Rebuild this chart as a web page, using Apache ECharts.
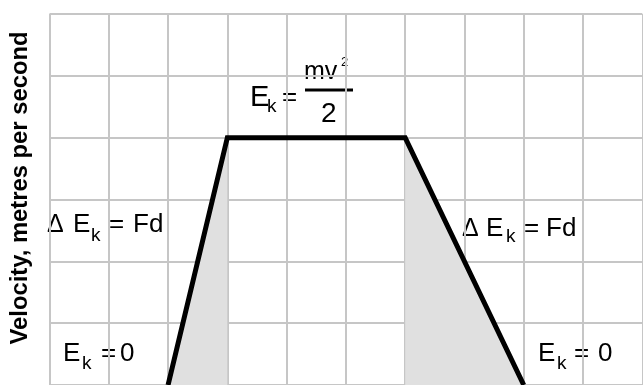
<!DOCTYPE html>
<html>
<head>
<meta charset="utf-8">
<script src="https://cdn.jsdelivr.net/npm/echarts@6/dist/echarts.min.js"></script>
<style>html,body{margin:0;padding:0;background:#fff}#c{width:643px;height:385px}</style>
</head>
<body>
<div id="c"></div>
<script>
// Data
const timeValues = [2, 3, 6, 8];
const velocityValues = [0, 4, 4, 0];
const xRange = [0, 10];
const yRange = [0, 6];
const yAxisTitle = 'Velocity, metres per second';

const pathData = timeValues.map((t, i) => [t, velocityValues[i]]);
const shadeLeft = pathData.slice(0, 2);
const shadeRight = pathData.slice(2, 4);

const FONT = '"Liberation Sans", Arial, sans-serif';
function txt(x, base, s, size) {
  return {
    type: 'text', x: x, y: base - 0.32 * size, silent: true,
    style: { text: s, font: size + 'px ' + FONT, fill: '#000', align: 'left', verticalAlign: 'middle' }
  };
}

const graphics = [
  // y axis title
  { type: 'text', x: 20.5, y: 188, rotation: Math.PI / 2, silent: true,
    style: { text: yAxisTitle, font: 'bold 23.8px ' + FONT, fill: '#000', align: 'center', verticalAlign: 'middle' } },
  // top formula
  txt(250, 107, 'E', 29), txt(267, 113, 'k', 19), txt(282, 106, '=', 26),
  txt(304, 80, 'mv', 25), txt(341, 67, '2', 13),
  { type: 'rect', silent: true, shape: { x: 305, y: 88.5, width: 48, height: 3 }, style: { fill: '#000' } },
  txt(321, 123, '2', 28),
  // left ΔEk = Fd
  txt(47, 233, 'Δ', 25), txt(73, 233, 'E', 26), txt(91, 242, 'k', 19), txt(109, 233, '=', 26), txt(133, 233, 'Fd', 26),
  // right ΔEk = Fd
  txt(462, 237, 'Δ', 25), txt(486, 237, 'E', 26), txt(506, 243, 'k', 19), txt(524, 237, '=', 26), txt(546, 237, 'Fd', 26),
  // d labels
  txt(206, 317, 'd', 26), txt(427, 315, 'd', 26),
  // Ek = 0
  txt(63, 362, 'E', 26), txt(82, 370, 'k', 19), txt(101, 362, '=', 26), txt(120, 362, '0', 26),
  txt(538, 362, 'E', 26), txt(557, 370, 'k', 19), txt(574, 362, '=', 26), txt(598, 362, '0', 26)
];

const chart = echarts.init(document.getElementById('c'), null, { renderer: 'canvas' });
const splitStyle = { show: true, lineStyle: { color: '#c6c6c6', width: 2 } };
chart.setOption({
  animation: false,
  backgroundColor: '#fff',
  grid: { left: 49.5, right: 0.7, top: 14, height: 374.4, containLabel: false },
  xAxis: { type: 'value', min: xRange[0], max: xRange[1], interval: 1,
    axisLine: { show: false }, axisTick: { show: false }, axisLabel: { show: false }, splitLine: splitStyle },
  yAxis: { type: 'value', min: yRange[0], max: yRange[1], interval: 1,
    axisLine: { show: false }, axisTick: { show: false }, axisLabel: { show: false }, splitLine: splitStyle },
  series: [
    { type: 'line', data: shadeLeft, symbol: 'none', lineStyle: { width: 0 }, areaStyle: { color: '#e0e0e0', opacity: 1 }, z: 1 },
    { type: 'line', data: shadeRight, symbol: 'none', lineStyle: { width: 0 }, areaStyle: { color: '#e0e0e0', opacity: 1 }, z: 1 },
    { type: 'line', data: pathData, symbol: 'none', lineStyle: { width: 5, color: '#000', join: 'miter', cap: 'butt' }, z: 3 }
  ],
  graphic: graphics
});
</script>
</body>
</html>
